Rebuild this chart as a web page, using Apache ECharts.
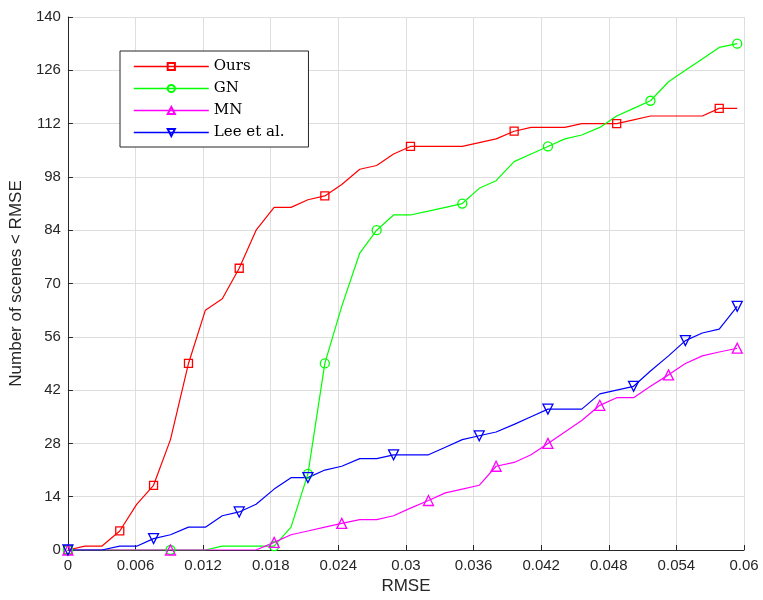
<!DOCTYPE html>
<html>
<head>
<meta charset="utf-8">
<script src="https://cdn.jsdelivr.net/npm/echarts@6/dist/echarts.min.js"></script>
<style>html,body{margin:0;padding:0;background:#fff}#c{width:763px;height:600px}</style>
</head>
<body>
<div id="c"></div>
<script>
// RMSE thresholds (x positions of the curve vertices)
var rmse = [0, 0.0015, 0.0030, 0.0046, 0.0061, 0.0076, 0.0091, 0.0107, 0.0122, 0.0137,
            0.0152, 0.0167, 0.0183, 0.0198, 0.0213, 0.0228, 0.0243, 0.0259, 0.0274, 0.0289,
            0.0304, 0.0320, 0.0335, 0.0350, 0.0365, 0.0380, 0.0396, 0.0411, 0.0426, 0.0441,
            0.0456, 0.0472, 0.0487, 0.0502, 0.0517, 0.0533, 0.0548, 0.0563, 0.0578, 0.0594];
// Number of scenes with error < RMSE
var ours = [0,1,1,5,12,17,29,49,63,66,74,84,90,90,92,93,96,100,101,104,106,106,106,106,107,108,110,111,111,111,112,112,112,113,114,114,114,114,116,116];
var gn   = [0,0,0,0,0,0,0,0,0,1,1,1,1,6,20,49,64,78,84,88,88,89,90,91,95,97,102,104,106,108,109,111,114,116,118,123,126,129,132,133];
var mn   = [0,0,0,0,0,0,0,0,0,0,0,0,2,4,5,6,7,8,8,9,11,13,15,16,17,22,23,25,28,31,34,38,40,40,43,46,49,51,52,53];
var lee  = [0,0,0,1,1,3,4,6,6,9,10,12,16,19,19,21,22,24,24,25,25,25,27,29,30,31,33,35,37,37,37,41,42,43,47,51,55,57,58,64];
// indices where markers are drawn
var oursMarks = [0,3,5,7,10,15,20,26,32,38];
var gnMarks   = [0,6,12,14,15,18,23,28,34,39];
var mnMarks   = [0,6,12,16,21,25,28,31,35,39];
var leeMarks  = [0,5,10,14,19,24,28,33,36,39];
var names = ['Ours', 'GN', 'MN', 'Lee et al.'];
var yTicks = [0, 14, 28, 42, 56, 70, 84, 98, 112, 126, 140];

function build(vals, marks) {
  return vals.map(function (v, i) {
    var item = { value: [rmse[i], v] };
    if (marks.indexOf(i) < 0) item.symbol = 'none';
    return item;
  });
}
function mkSeries(name, vals, marks, color, symbol, size, rotate) {
  return {
    name: name, type: 'line', data: build(vals, marks),
    symbol: symbol, symbolSize: size, symbolRotate: rotate || 0,
    showAllSymbol: true, animation: false, z: 3,
    color: color,
    lineStyle: { color: color, width: 1.2 },
    itemStyle: { color: 'rgba(255,255,255,0)', borderColor: color, borderWidth: 1.3 }
  };
}

var chart = echarts.init(document.getElementById('c'), null, { renderer: 'canvas' });
var axisFont = { fontFamily: 'Liberation Sans, Arial, sans-serif', fontSize: 15, color: '#262626' };
chart.setOption({
  backgroundColor: '#fff',
  animation: false,
  grid: { left: 67, right: 19, top: 17, bottom: 48, containLabel: false },
  legend: {
    orient: 'vertical', left: 120, top: 51,
    data: names,
    backgroundColor: '#fff', borderColor: '#262626', borderWidth: 1,
    padding: [8, 24, 7, 13],
    itemWidth: 75, itemHeight: 9, itemGap: 7,
    lineStyle: { width: 1.6 },
    textStyle: { fontFamily: 'DejaVu Serif, Liberation Serif, serif', fontSize: 15, color: '#000' }
  },
  xAxis: {
    type: 'value', min: 0, max: 0.06, interval: 0.006,
    name: 'RMSE', nameLocation: 'middle', nameGap: 28,
    nameTextStyle: { fontFamily: 'Liberation Sans, Arial, sans-serif', fontSize: 17, color: '#262626' },
    axisLine: { show: true, lineStyle: { color: '#262626', width: 1 } },
    axisTick: { show: true, inside: true, length: 5, lineStyle: { color: '#262626' } },
    axisLabel: Object.assign({ margin: 8, formatter: function (v) { return String(+v.toFixed(3)); } }, axisFont),
    splitLine: { show: true, lineStyle: { color: '#dedede', width: 1 } }
  },
  yAxis: {
    type: 'value', min: 0, max: 140, interval: 14,
    name: 'Number of scenes < RMSE', nameLocation: 'middle', nameGap: 38,
    nameTextStyle: { fontFamily: 'Liberation Sans, Arial, sans-serif', fontSize: 17, color: '#262626' },
    axisLine: { show: true, lineStyle: { color: '#262626', width: 1 } },
    axisTick: { show: true, inside: true, length: 5, lineStyle: { color: '#262626' } },
    axisLabel: Object.assign({ margin: 7, formatter: function (v) { return yTicks.indexOf(v) >= 0 ? String(v) : ''; } }, axisFont),
    splitLine: { show: true, lineStyle: { color: '#dedede', width: 1 } }
  },
  series: [
    mkSeries('Ours', ours, oursMarks, '#ff0000', 'rect', 8),
    mkSeries('GN', gn, gnMarks, '#00ff00', 'circle', 9),
    mkSeries('MN', mn, mnMarks, '#ff00ff', 'triangle', 10),
    mkSeries('Lee et al.', lee, leeMarks, '#0000ff', 'triangle', 10, 180)
  ]
});
</script>
</body>
</html>
